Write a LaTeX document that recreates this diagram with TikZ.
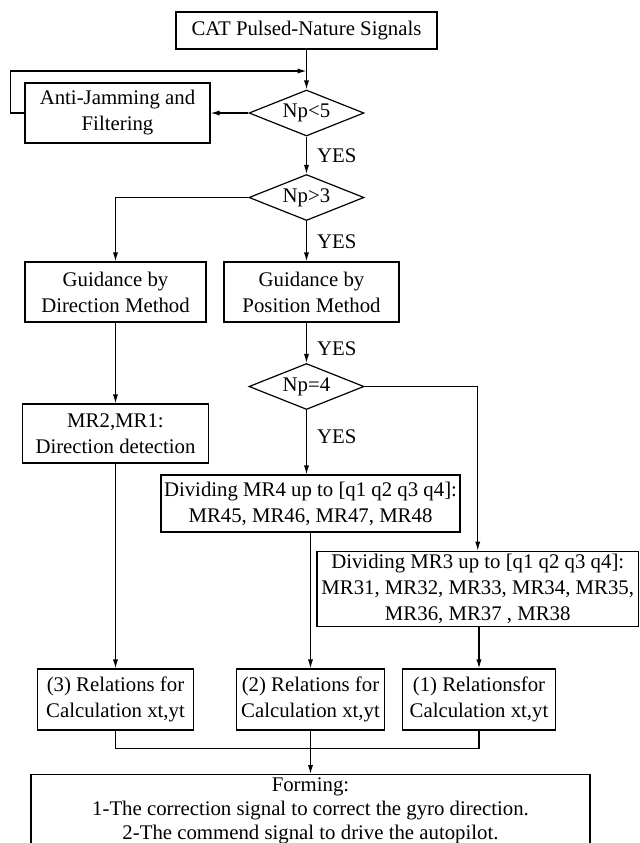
\documentclass[tikz,border=0pt]{standalone}
\usepackage{fontspec}
\setmainfont{Liberation Serif}
\usetikzlibrary{shapes.geometric,arrows.meta}

\begin{document}
\begin{tikzpicture}[x=0.5pt, y=-0.5pt, line width=0.6pt,
  every node/.style = {font=\fontsize{10.4}{13}\selectfont},
  box/.style = {shape=rectangle, draw, align=center, inner sep=1.5pt},
  test/.style = {shape=diamond, draw, aspect=2.5, inner sep=0.5pt,
    minimum width=57.5pt, minimum height=23pt},
  flow/.style = {-{Latex[length=4.5pt,width=2.6pt]}},
  yeslabel/.style = {right=4pt, inner sep=1pt}]
  \useasboundingbox (0,0) rectangle (639,843);
  \node[box, minimum width=130.5pt, minimum height=18.5pt] (cat) at (306.5,30.5) {CAT Pulsed-Nature Signals};
  \node[box, minimum width=92.5pt, minimum height=30pt] (filt) at (117.5,113) {Anti-Jamming and\\Filtering};
  \node[test] (np5) at (306.5,113) {Np<5};
  \node[test] (np3) at (306.5,197.5) {Np>3};
  \node[box, minimum width=90.5pt, minimum height=30pt] (dirm) at (115.5,292) {Guidance by\\Direction Method};
  \node[box, minimum width=87.5pt, minimum height=30pt] (posm) at (311.5,292) {Guidance by\\Position Method};
  \node[test] (np4) at (306.5,386.5) {Np=4};
  \node[box, minimum width=93pt, minimum height=29.5pt] (mrdir) at (115.5,433.5) {MR2,MR1:\\Direction detection};
  \node[box, minimum width=149pt, minimum height=28.5pt] (mrfour) at (310.5,503.5) {Dividing MR4 up to [q1 q2 q3 q4]:\\MR45, MR46, MR47, MR48};
  \node[box, minimum width=160.75pt, minimum height=37pt] (mrthree) at (477.75,589) {Dividing MR3 up to [q1 q2 q3 q4]:\\MR31, MR32, MR33, MR34, MR35,\\MR36, MR37 , MR38};
  \node[box, minimum width=78pt, minimum height=30.5pt] (calcc) at (115.5,699.5) {(3) Relations for\\Calculation xt,yt};
  \node[box, minimum width=74pt, minimum height=30.5pt] (calcb) at (310.5,699.5) {(2) Relations for\\Calculation xt,yt};
  \node[box, minimum width=76.5pt, minimum height=30.5pt] (calca) at (479,699.5) {(1) Relationsfor\\Calculation xt,yt};
  \node[box, anchor=north, minimum width=279.5pt, text depth=12pt,
    font=\fontsize{10.4}{12}\selectfont] (form) at (310.5,774) {Forming:\\1-The correction signal to correct the gyro direction.\\2-The commend signal to drive the autopilot.};

  % main column and loop back
  \coordinate (back) at (306.5,71);
  \draw[flow] (cat) -- (np5);
  \draw[flow] (np5) -- (filt);
  \draw[flow] (filt.west) -- ++(-13.5,0) |- (back);
  \draw[flow] (np5) -- node[yeslabel] {YES} (np3);
  \draw[flow] (np3.west) -| (dirm.north);
  \draw[flow] (np3) -- node[yeslabel] {YES} (np3.south |- posm.north);
  \draw[flow] (np4.north |- posm.south) -- node[yeslabel, pos=0.65] {YES} (np4);
  \draw[flow] (np4.east) -| (mrthree.north);
  \draw[flow] (np4) -- node[yeslabel, pos=0.42] {YES} (np4.south |- mrfour.north);
  \draw[flow] (dirm) -- (mrdir);
  \draw[flow] (mrdir) -- (calcc);
  \draw[flow] (mrfour) -- (calcb);
  \draw[flow] (mrthree.south -| calca.north) -- (calca.north);
  % joining the three results
  \draw (calcc.south) -- ++(0,18) -| (calca.south);
  \draw[flow] (calcb) -- (form);
\end{tikzpicture}
\end{document}
